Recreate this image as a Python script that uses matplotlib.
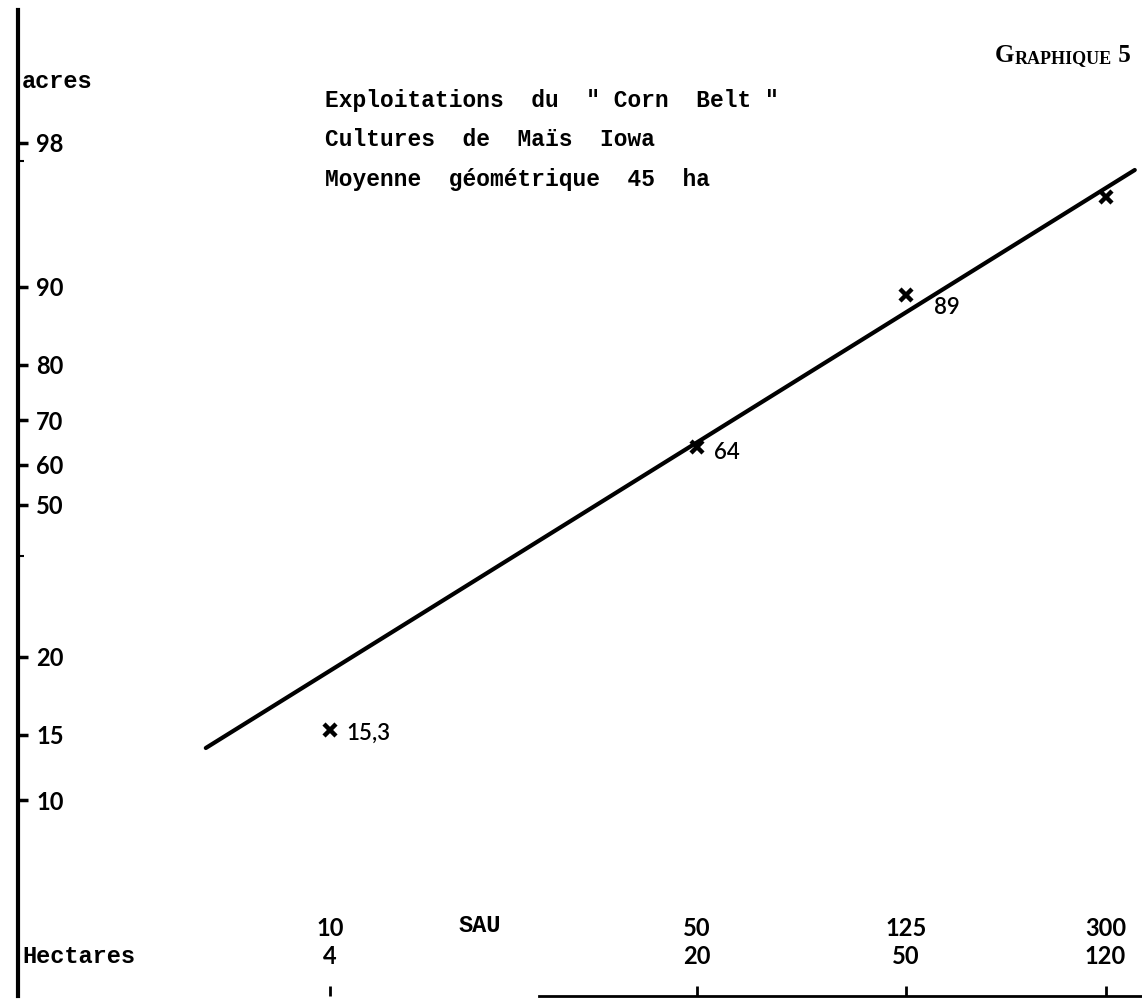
import numpy as np
import matplotlib
matplotlib.use("Agg")
import matplotlib.pyplot as plt
from matplotlib.ticker import FixedLocator, NullFormatter, NullLocator
from matplotlib.transforms import blended_transform_factory

# farm size (SAU) in acres, with the hectare equivalents
sau_acres = [10, 50, 125, 300]
sau_ha = [4, 20, 50, 120]
# cumulative share of maize acreage (%)
mais_pct = [15.3, 64, 89, 95]
point_labels = ["15,3", "64", "89", ""]

# fitted line, end to end
fit_acres = [5.8, 341]
fit_pct = [14.0, 96.5]

# probability ruling of the vertical axis
y_ticks = [10, 15, 20, 50, 60, 70, 80, 90, 98]
y_minor = [40, 97]
ruling_pct = [1, 10, 15, 20, 50, 60, 70, 80, 90, 98, 99.9]
ruling_pos = [-491, -295, -230, -152, 0, 40, 85, 140, 218, 362, 495]

title_lines = ['Exploitations  du  " Corn  Belt "',
               'Cultures  de  Maïs  Iowa',
               'Moyenne  géométrique  45  ha']

MONO = "Liberation Mono"
NUM = "Lato"
SERIF = "Liberation Serif"
W, H = 1142, 999


def fwd(v):
    return np.interp(v, ruling_pct, ruling_pos)


def inv(p):
    return np.interp(p, ruling_pos, ruling_pct)


fig = plt.figure(figsize=(W / 100, H / 100), dpi=100)
ax = fig.add_axes([18 / W, 3 / H, 1 - 18 / W, 986 / H])

ax.set_xscale("log")
ax.set_yscale("function", functions=(fwd, inv))
ax.set_xlim(2.545, 352)
ax.set_ylim(1, 99.9)

# regression line and observed points
ax.plot(fit_acres, fit_pct, color="black", lw=3, solid_capstyle="round")
ax.plot(sau_acres, mais_pct, "x", ms=8, mew=3.2, color="black", clip_on=False)
offsets = [(12, -2), (12, -4), (20, -9), (0, 0)]
for x, y, lab, off in zip(sau_acres, mais_pct, point_labels, offsets):
    if lab:
        ax.annotate(lab, (x, y), xytext=off, textcoords="offset points",
                    ha="left", va="center", fontsize=16, family=NUM,
                    fontweight="semibold")

# spines
for s in ("top", "right"):
    ax.spines[s].set_visible(False)
ax.spines["left"].set_linewidth(3)
ax.spines["bottom"].set_linewidth(2)
ax.spines["bottom"].set_bounds(25, 352)

# y ticks: labels sit inside, to the right of the axis line
ax.yaxis.set_major_locator(FixedLocator(y_ticks))
ax.yaxis.set_minor_locator(FixedLocator(y_minor))
ax.yaxis.set_minor_formatter(NullFormatter())
ax.set_yticklabels([str(t) for t in y_ticks])
ax.tick_params(axis="y", which="major", direction="in", length=7, width=2.5,
               pad=-13, labelsize=17)
ax.tick_params(axis="y", which="minor", direction="in", length=4, width=1.5)
for lab in ax.get_yticklabels():
    lab.set_horizontalalignment("left")
    lab.set_family(NUM)
    lab.set_fontweight("bold")

# x ticks: marks only, labels written as two rows
ax.xaxis.set_major_locator(FixedLocator(sau_acres))
ax.xaxis.set_major_formatter(NullFormatter())
ax.xaxis.set_minor_locator(NullLocator())
ax.tick_params(axis="x", direction="in", length=7, width=2)

trans = blended_transform_factory(ax.transData, ax.transAxes)
for a, h in zip(sau_acres, sau_ha):
    ax.text(a, 0.068, str(a), transform=trans, ha="center", va="center",
            fontsize=17, family=NUM, fontweight="bold")
    ax.text(a, 0.0405, str(h), transform=trans, ha="center", va="center",
            fontsize=17, family=NUM, fontweight="bold")
ax.text(0.411, 0.071, "SAU", transform=ax.transAxes, ha="center", va="center",
        fontsize=17, family=MONO, fontweight="bold")
ax.text(0.004, 0.0405, "Hectares", transform=ax.transAxes, ha="left",
        va="center", fontsize=17, family=MONO, fontweight="bold")

fig.text(22 / W, 1 - 82 / H, "acres", ha="left", va="center", fontsize=17,
         family=MONO, fontweight="bold")
for i, line in enumerate(title_lines):
    fig.text(325 / W, 1 - (100 + 40 * i) / H, line, ha="left", va="center",
             fontsize=16.5, family=MONO, fontweight="bold")

# "Graphique 5" set in small capitals
g = ax.annotate("G", xy=(995 / W, 1 - 62 / H), xycoords="figure fraction",
                fontsize=18, family=SERIF, fontweight="bold",
                va="baseline", annotation_clip=False)
r = ax.annotate("RAPHIQUE", xy=(1, 0), xycoords=g, va="bottom", fontsize=13,
                family=SERIF, fontweight="bold", annotation_clip=False)
ax.annotate(" 5", xy=(1, 0), xycoords=r, va="bottom", fontsize=18,
            family=SERIF, fontweight="bold", annotation_clip=False)

fig.savefig("out.png", dpi=100)
